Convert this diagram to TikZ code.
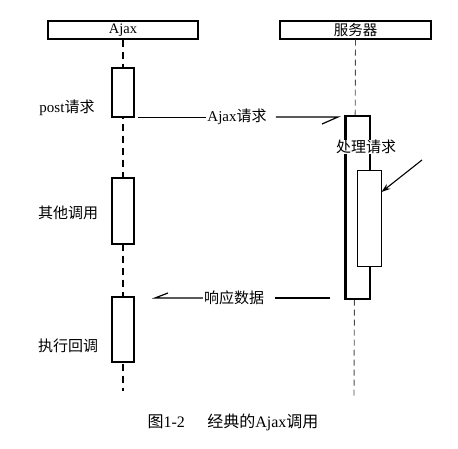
\documentclass[tikz,border=0pt]{standalone}
\usepackage{fontspec}
\setmainfont{Liberation Serif}
\newfontfamily\cjk{Noto Sans CJK SC}
\usetikzlibrary{arrows.meta,calc}
\begin{document}
\begin{tikzpicture}[x=1pt,y=-1pt,
  headbox/.style={draw,line width=1.2pt,minimum height=18pt,inner sep=0pt,font=\fontsize{14.5}{16}\selectfont},
  actbox/.style={draw,fill=white,line width=1.2pt,inner sep=0pt},
  lbl/.style={font=\fontsize{15}{18}\selectfont,inner sep=1pt},
  msg/.style={line width=1.2pt},
  ajaxlife/.style={line width=1.3pt,dash pattern=on 7pt off 5pt},
  srvlife/.style={line width=0.9pt,gray!60!black,dash pattern=on 6pt off 4pt}]
\useasboundingbox (0,0) rectangle (458,449);
% headers
\node[headbox,minimum width=150pt] (ajax) at (123,30) {Ajax};
\node[headbox,minimum width=151pt] (srv) at (355.5,30) {\cjk 服务器};
\draw[line width=2.4pt] ([xshift=-0.6pt]srv.north east) -- ([xshift=-0.6pt]srv.south east);
% lifelines
\coordinate (ajaxend) at (123,391);
\coordinate (srvend) at (354,397);
\draw[ajaxlife] (ajax.south) -- (ajaxend);
\draw[srvlife] (srv.south) -- (srvend);
% ajax activation boxes
\node[actbox,minimum width=22pt,minimum height=49pt] (a1) at (123,92.5) {};
\node[actbox,minimum width=22pt,minimum height=66pt] (a2) at (123,211) {};
\node[actbox,minimum width=22pt,minimum height=65pt] (a3) at (123,329.5) {};
% server boxes
\node[actbox,line width=1.1pt,minimum width=24pt,minimum height=183pt] (s1) at (358,207.5) {};
\draw[line width=2.4pt] (s1.north west) -- (s1.south west);
\node[actbox,line width=1pt,minimum width=24pt,minimum height=96pt] (s2) at (369,219) {};
\node[lbl,fill=white,inner sep=0pt] (proc) at (366,147) {\cjk 处理请求};
\coordinate (pstart) at (422,160);
\draw[line width=1.1pt,-{Stealth[length=9pt,width=6pt]}] (pstart) -- (s2.east |- 0,192) coordinate (pend);
% labels
\node[lbl] (post) at (67,108) {post{\cjk 请求}};
\node[lbl] (other) at (68,213) {\cjk 其他调用};
\node[lbl] (cb) at (68,346) {\cjk 执行回调};
% request message
\node[lbl,inner sep=1pt] (req) at (237,117) {Ajax{\cjk 请求}};
\coordinate (reqtip) at (338,117);
\draw[msg] ([xshift=3pt]a1.south east) -- (req.west |- a1.south east);
\draw[msg] (req.east) ++(8pt,0) -- (reqtip) -- ++(-16,7);
% response message
\node[lbl,inner sep=1pt] (resp) at (234,298) {\cjk 响应数据};
\coordinate (resptip) at (155,298);
\draw[msg] ([xshift=-15pt]s1.south west |- resp) -- ([xshift=10pt]resp.east) ;
\draw[msg] (resp.west) -- (resptip) -- ++(13,-5);
% caption
\node[lbl,font=\fontsize{16}{19}\selectfont] (cap) at (233,422) {{\cjk 图}1-2\hspace{1.4em}{\cjk 经典的}Ajax{\cjk 调用}};
\end{tikzpicture}
\end{document}
